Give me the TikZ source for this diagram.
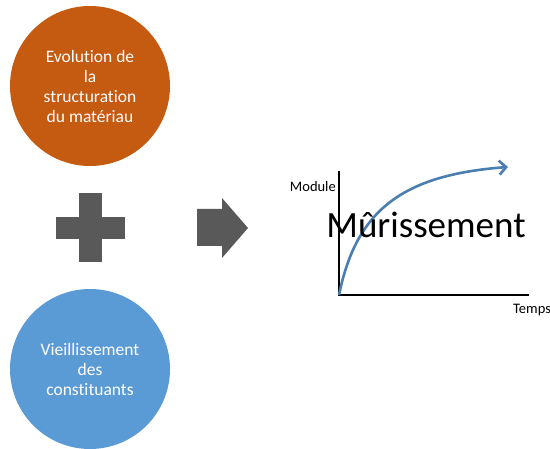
\documentclass[tikz,border=0pt]{standalone}
\usepackage{fontspec}
\setmainfont{Carlito}[Ligatures=NoCommon]
\usetikzlibrary{arrows.meta}

\definecolor{rouille}{HTML}{C55A11}
\definecolor{ciel}{HTML}{5B9BD5}
\definecolor{ardoise}{HTML}{595959}
\definecolor{courbe}{HTML}{4A7EB0}

\tikzset{
	bulle/.style={circle, minimum size=160pt, inner sep=0pt, align=center,
		text=white, font=\fontsize{17.5}{20}\selectfont},
	axe/.style={line width=2pt, black},
	legende/.style={font=\fontsize{14.5}{14.5}\selectfont, inner sep=0pt},
}

\begin{document}
\begin{tikzpicture}[x=1pt,y=-1pt]
\useasboundingbox (0,0) rectangle (550,449);

%cercles
\node[bulle, fill=rouille] (evol) at (90,86) {Evolution de\\la\\structuration\\du mat\'eriau};
\node[bulle, fill=ciel] (vieil) at (90,369) {Vieillissement\\des\\constituants};

%plus
\fill[ardoise] (79,193) rectangle (102,262);
\fill[ardoise] (56,217) rectangle (125,239);

%fleche
\fill[ardoise] (197,209)--(222,209)--(222,198)--(248,228)--(222,258)--(222,246)--(197,246)--cycle;

%graphe
\coordinate (o) at (339,295);
\coordinate (ytop) at (339,171);
\coordinate (xend) at (529,295);
\draw[axe] (ytop)--(o)--(xend);
\draw[courbe, line width=2.6pt, -{Straight Barb[length=7pt,width=14pt]}]
	(o) .. controls (356,212) and (400,175) .. (508,167);

\node[legende, anchor=east] (module) at (336,187) {Module};
\node[legende, anchor=west] (temps) at (513,310) {Temps};
\node[font=\fontsize{37}{37}\selectfont, inner sep=0pt, anchor=base] (muri) at (426,238) {M\^urissement};

\end{tikzpicture}
\end{document}
